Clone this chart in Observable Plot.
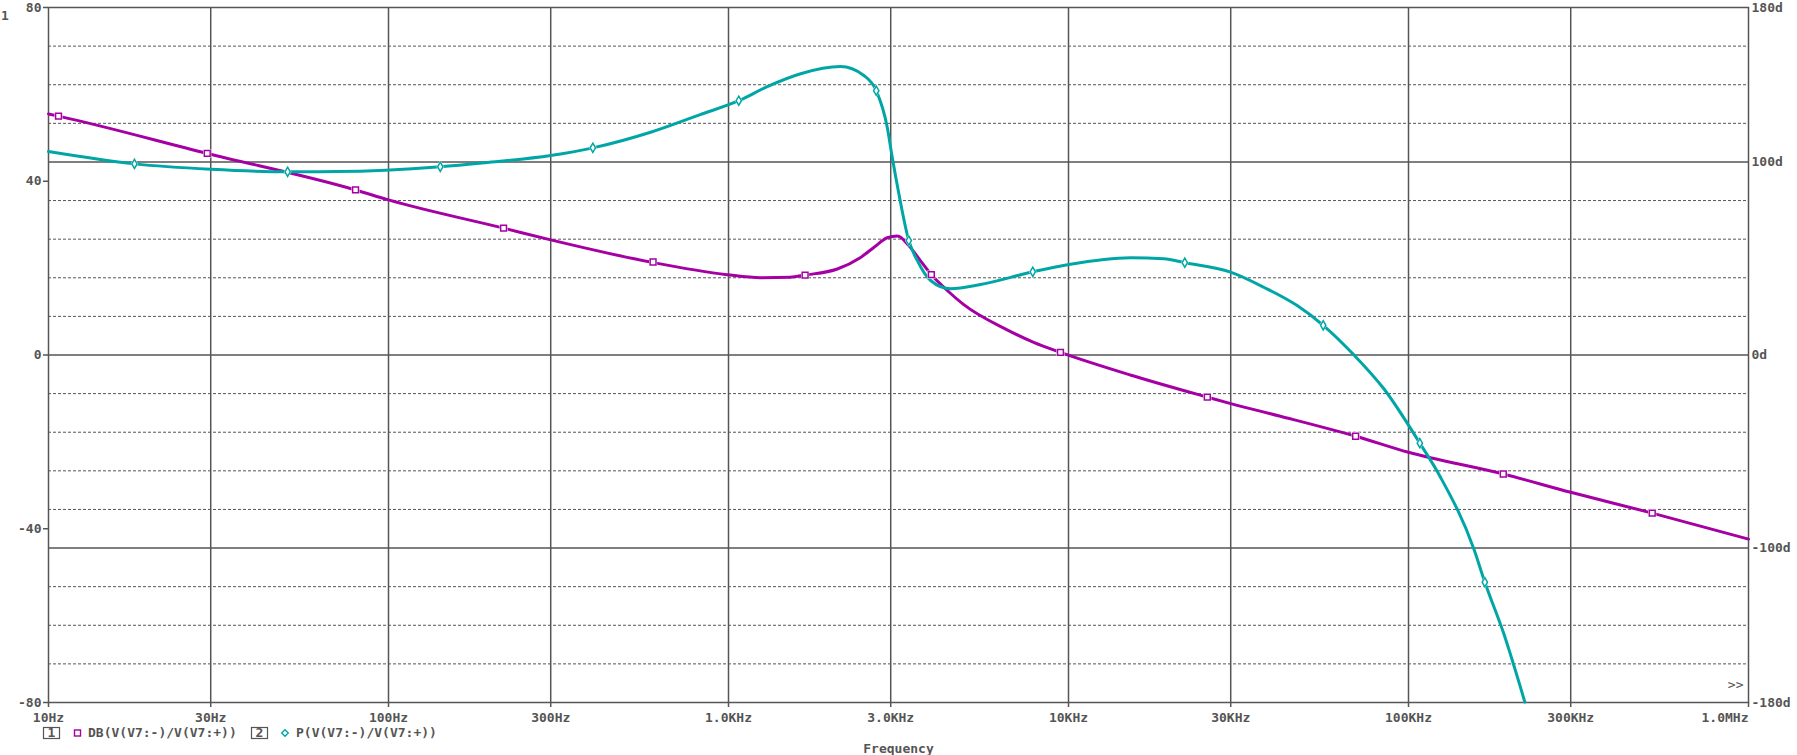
<!DOCTYPE html>
<html><head><meta charset="utf-8">
<script src="https://cdn.jsdelivr.net/npm/d3@7"></script>
<script src="https://cdn.jsdelivr.net/npm/@observablehq/plot@0.6"></script>
<style>
html,body{margin:0;padding:0;background:#fff;}
#wrap{position:relative;width:1797px;height:755px;overflow:hidden;font-family:"DejaVu Sans Mono",monospace;font-weight:bold;font-size:13px;color:#555;background:#fff;}
#wrap svg{display:block;}
#axnum{position:absolute;left:1px;top:9px;line-height:13px;}
</style></head><body><div id="wrap"></div>
<script>
// ---- data ----
const dbFreq = [10, 10.7, 29.3, 80, 100, 218, 300, 590, 990, 1240, 1520, 1680, 2090, 2440, 2680, 2930, 3140, 3390, 3630, 3930, 4450, 4920, 6600, 7900, 9470, 15200, 25600, 30000, 42000, 69900, 100000, 190000, 300000, 521000, 1000000];
const dbVal  = [55.5, 55.0, 46.4, 38.0, 35.7, 29.2, 26.5, 21.4, 18.5, 17.8, 17.9, 18.4, 19.8, 22.4, 24.8, 27.0, 27.4, 25.2, 22.2, 18.7, 14.5, 11.6, 5.8, 2.9, 0.6, -4.6, -9.7, -11.2, -14.1, -18.7, -22.4, -27.4, -31.6, -36.4, -42.4];

const phFreq = [10, 17.9, 30, 50.5, 70, 142, 192, 300, 399, 590, 822, 1072, 1300, 1630, 2135, 2500, 2720, 2930, 3030, 3170, 3390, 3590, 3930, 4500, 5510, 7850, 10020, 15220, 19070, 21980, 29960, 37530, 47050, 56120, 69050, 84620, 108000, 124200, 155600, 167700, 190700, 219900];
const phVal  = [105.4, 99.0, 96.2, 94.9, 95.0, 97.5, 99.6, 103.3, 107.3, 115.4, 124.4, 131.7, 139.0, 145.7, 149.4, 144.8, 136.9, 118.0, 102.5, 83.5, 59.3, 49.0, 38.6, 34.3, 36.5, 43.1, 46.9, 50.4, 49.8, 47.8, 42.9, 35.1, 25.6, 15.4, 0.1, -17.5, -45.7, -63.3, -100.4, -117.7, -144.4, -179.8];

const dbMarkFreq = [10.7, 29.3, 80, 218, 600, 1680, 3950, 9470, 25600, 69900, 190000, 521000];
const dbMarkVal  = [55.0, 46.4, 38.0, 29.2, 21.4, 18.4, 18.5, 0.6, -9.7, -18.7, -27.4, -36.4];
const phMarkFreq = [17.9, 50.5, 142, 399, 1072, 2720, 3390, 7850, 21980, 56120, 108000, 167700];
const phMarkVal  = [99.0, 94.9, 97.5, 107.3, 131.7, 136.9, 59.3, 43.1, 47.8, 15.4, -45.7, -117.7];

const xTicks = [10, 30, 100, 300, 1000, 3000, 10000, 30000, 100000, 300000, 1000000];
const xTickLabels = ["10Hz", "30Hz", "100Hz", "300Hz", "1.0KHz", "3.0KHz", "10KHz", "30KHz", "100KHz", "300KHz", "1.0MHz"];
const yTicks = [80, 40, 0, -40, -80];
const phaseTicks = [180, 100, 0, -100, -180];
const solidPhases = [100, 0, -100];
const dashPhases = [160, 140, 120, 80, 60, 40, 20, -20, -40, -60, -80, -120, -140, -160];
const seriesNames = ["DB(V(V7:-)/V(V7:+))", "P(V(V7:-)/V(V7:+))"];

// ---- build ----
const MAG = "#a400a4", CYAN = "#00a6a6", GRID = "#555555";
const k = 80 / 180; // phase degrees -> left-axis units
const dbData = dbFreq.map((f, i) => ({f, v: dbVal[i]}));
const phData = phFreq.map((f, i) => ({f, v: phVal[i]}));
const dbMarks = dbMarkFreq.map((f, i) => ({f, v: dbMarkVal[i]}));
const phMarks = phMarkFreq.map((f, i) => ({f, v: phMarkVal[i]}));
const xLab = xTicks.map((t, i) => ({t, label: xTickLabels[i]}));

const chart = Plot.plot({
  width: 1797, height: 725,
  marginTop: 7, marginBottom: 23, marginLeft: 48, marginRight: 49,
  style: {fontFamily: '"DejaVu Sans Mono", monospace', fontSize: "13px", fontWeight: "bold", color: "#555", background: "#fff", overflow: "visible"},
  x: {type: "log", domain: [10, 1e6], label: null},
  y: {domain: [-80, 80], label: null},
  marks: [
    Plot.ruleY(dashPhases, {y: p => p * k, stroke: GRID, strokeWidth: 1, strokeDasharray: "3,2"}),
    Plot.ruleY(solidPhases, {y: p => p * k, stroke: GRID, strokeWidth: 1.5}),
    Plot.ruleX(xTicks.slice(1, -1), {stroke: GRID, strokeWidth: 1.5}),
    Plot.frame({stroke: GRID, strokeWidth: 1.5}),
    Plot.line(dbData, {x: "f", y: "v", stroke: MAG, strokeWidth: 3, curve: "monotone-x"}),
    Plot.line(phData, {x: "f", y: d => d.v * k, stroke: CYAN, strokeWidth: 3, curve: "monotone-x"}),
    Plot.dot(dbMarks, {x: "f", y: "v", symbol: "square", r: 4.6, fill: "white"}),
    Plot.dot(phMarks, {x: "f", y: d => d.v * k, symbol: "diamond", r: 4, fill: "white"}),
    Plot.dot(dbMarks, {x: "f", y: "v", symbol: "square", r: 3.3, fill: "white", stroke: MAG, strokeWidth: 1.5}),
    Plot.dot(phMarks, {x: "f", y: d => d.v * k, symbol: "diamond", r: 2.8, fill: "white", stroke: CYAN, strokeWidth: 1.5}),
    Plot.axisY({anchor: "left", ticks: yTicks, tickSize: 5, tickPadding: 2, tickFormat: d => String(d), label: null, stroke: GRID, strokeWidth: 1.5}),
    Plot.axisY({anchor: "right", ticks: phaseTicks.map(p => p * k), tickSize: 0, tickPadding: 3, tickFormat: v => Math.round(v / k) + "d", label: null}),
    Plot.axisX({ticks: xTicks, tickSize: 5, tickFormat: () => "", label: null, stroke: GRID, strokeWidth: 1.5}),
    Plot.text(xLab.slice(0, -1), {x: "t", text: "label", frameAnchor: "bottom", lineAnchor: "top", dy: 10, textAnchor: "middle", fill: "#555"}),
    Plot.text(xLab.slice(-1), {x: "t", text: "label", frameAnchor: "bottom", lineAnchor: "top", dy: 10, textAnchor: "end", fill: "#555"}),
    Plot.text([">>"], {frameAnchor: "bottom-right", dx: -5, dy: -14, textAnchor: "end", fill: "#555", fontWeight: "normal"})
  ]
});

const wrap = document.getElementById("wrap");
wrap.appendChild(chart);

const axnum = document.createElement("div");
axnum.id = "axnum";
axnum.textContent = "1";
wrap.appendChild(axnum);

// legend + axis title
const ns = "http://www.w3.org/2000/svg";
const leg = document.createElementNS(ns, "svg");
leg.setAttribute("width", 1797);
leg.setAttribute("height", 30);
leg.style.position = "absolute";
leg.style.left = "0px";
leg.style.top = "725px";
function el(tag, attrs, text) {
  const e = document.createElementNS(ns, tag);
  for (const a in attrs) e.setAttribute(a, attrs[a]);
  if (text != null) e.textContent = text;
  leg.appendChild(e);
  return e;
}
const tstyle = {"font-family": '"DejaVu Sans Mono", monospace', "font-size": "13px", "font-weight": "bold", fill: "#555"};
el("rect", {x: 43.5, y: 2.5, width: 16, height: 11, fill: "none", stroke: "#555", "stroke-width": 1.2});
el("text", {...tstyle, x: 51.5, y: 12.3, "text-anchor": "middle"}, "1");
el("rect", {x: 74.5, y: 5, width: 6, height: 6, fill: "none", stroke: MAG, "stroke-width": 1.4});
el("text", {...tstyle, x: 88, y: 12.3}, seriesNames[0]);
el("rect", {x: 251.5, y: 2.5, width: 16, height: 11, fill: "none", stroke: "#555", "stroke-width": 1.2});
el("text", {...tstyle, x: 259.5, y: 12.3, "text-anchor": "middle"}, "2");
el("polygon", {points: "285,4.7 288.3,8 285,11.3 281.7,8", fill: "none", stroke: CYAN, "stroke-width": 1.4});
el("text", {...tstyle, x: 296, y: 12.3}, seriesNames[1]);
el("text", {...tstyle, x: 898.5, y: 27.5, "text-anchor": "middle"}, "Frequency");
wrap.appendChild(leg);
</script></body></html>
